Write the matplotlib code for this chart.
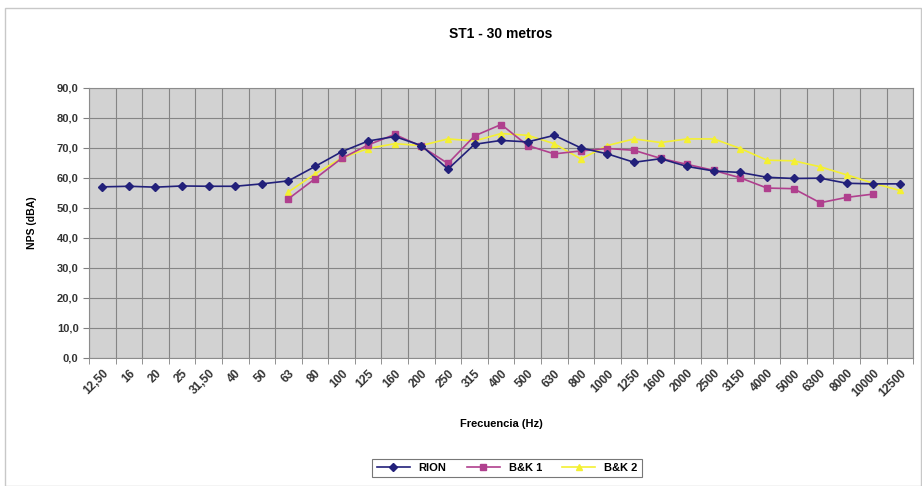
import numpy as np
import matplotlib
matplotlib.use('Agg')
import matplotlib.pyplot as plt
from matplotlib.patches import Rectangle

plt.rcParams['font.family'] = ['Liberation Sans', 'DejaVu Sans']

freqs = ['12,50', '16', '20', '25', '31,50', '40', '50', '63', '80', '100',
         '125', '160', '200', '250', '315', '400', '500', '630', '800', '1000',
         '1250', '1600', '2000', '2500', '3150', '4000', '5000', '6300', '8000',
         '10000', '12500']

nan = np.nan
rion = [57.0, 57.2, 56.9, 57.3, 57.2, 57.2, 58.0, 59.0, 63.8, 68.7,
        72.3, 73.8, 70.8, 62.9, 71.2, 72.5, 72.0, 74.2, 70.0, 68.0,
        65.2, 66.4, 63.8, 62.3, 61.8, 60.2, 59.8, 59.9, 58.2, 58.0, 58.0]
bk1 = [nan, nan, nan, nan, nan, nan, nan, 53.0, 59.7, 66.5,
       71.0, 74.5, 70.5, 64.8, 74.0, 77.8, 70.8, 68.0, 69.0, 69.8,
       69.2, 66.5, 64.5, 62.5, 60.0, 56.6, 56.4, 51.7, 53.5, 54.6, nan]
bk2 = [nan, nan, nan, nan, nan, nan, nan, 55.3, 61.3, 66.6,
       69.8, 71.4, 70.8, 73.0, 72.3, 74.8, 74.2, 71.4, 66.3, 70.8,
       73.0, 71.8, 73.0, 73.0, 69.8, 65.9, 65.7, 63.7, 61.0, 58.2, 55.8]

x = np.arange(len(freqs))

fig = plt.figure(figsize=(9.22, 4.86), dpi=100)
ax = fig.add_axes([0.0965, 0.264, 0.894, 0.555])
ax.set_facecolor('#D2D2D2')

ax.plot(x, rion, color='#22207A', marker='D', markersize=4, lw=1.2, label='RION', zorder=4)
ax.plot(x, bk1, color='#B0408E', marker='s', markersize=4, lw=1.2, label='B&K 1', zorder=3)
ax.plot(x, bk2, color='#F4F032', marker='^', markersize=5, lw=1.2, label='B&K 2', zorder=2)

ax.set_xlim(-0.5, len(freqs) - 0.5)
ax.set_ylim(0, 90)
ax.set_yticks(np.arange(0, 91, 10))
ax.set_yticklabels(['%d,0' % v for v in range(0, 91, 10)])
ax.set_xticks(x)
ax.set_xticklabels(freqs, rotation=45, ha='right', va='top', rotation_mode='anchor')
ax.set_xticks(np.arange(-0.5, len(freqs), 1), minor=True)

ax.tick_params(axis='x', which='major', length=0, pad=7, labelsize=8.5)
ax.tick_params(axis='x', which='minor', length=4, color='#808080')
ax.tick_params(axis='y', length=4, color='#808080', labelsize=8)
for lab in ax.get_xticklabels() + ax.get_yticklabels():
    lab.set_fontweight('bold')
    lab.set_color('#333333')

ax.grid(True, axis='y', which='major', color='#858585', lw=0.8)
ax.grid(True, axis='x', which='minor', color='#858585', lw=0.8)
ax.set_axisbelow(True)
for s in ax.spines.values():
    s.set_color('#8C8C8C')
    s.set_linewidth(0.8)

ax.set_title('ST1 - 30 metros', fontsize=10, fontweight='bold', pad=36)
ax.set_xlabel('Frecuencia (Hz)', fontsize=8, fontweight='bold', labelpad=14)
ax.set_ylabel('NPS (dBA)', fontsize=7.5, fontweight='bold', labelpad=14)

leg = fig.legend(loc='center', bbox_to_anchor=(0.55, 0.037), ncol=3, fontsize=8,
                 frameon=True, fancybox=False, edgecolor='#555555',
                 handlelength=3, columnspacing=1.8, borderpad=0.4)
leg.get_frame().set_linewidth(0.8)
for t in leg.get_texts():
    t.set_fontweight('bold')

fig.patches.append(Rectangle((0.005, 0.0), 0.994, 0.983, transform=fig.transFigure,
                             fill=False, edgecolor='#C8C8C8', lw=1))

fig.savefig('out.png', dpi=100)
